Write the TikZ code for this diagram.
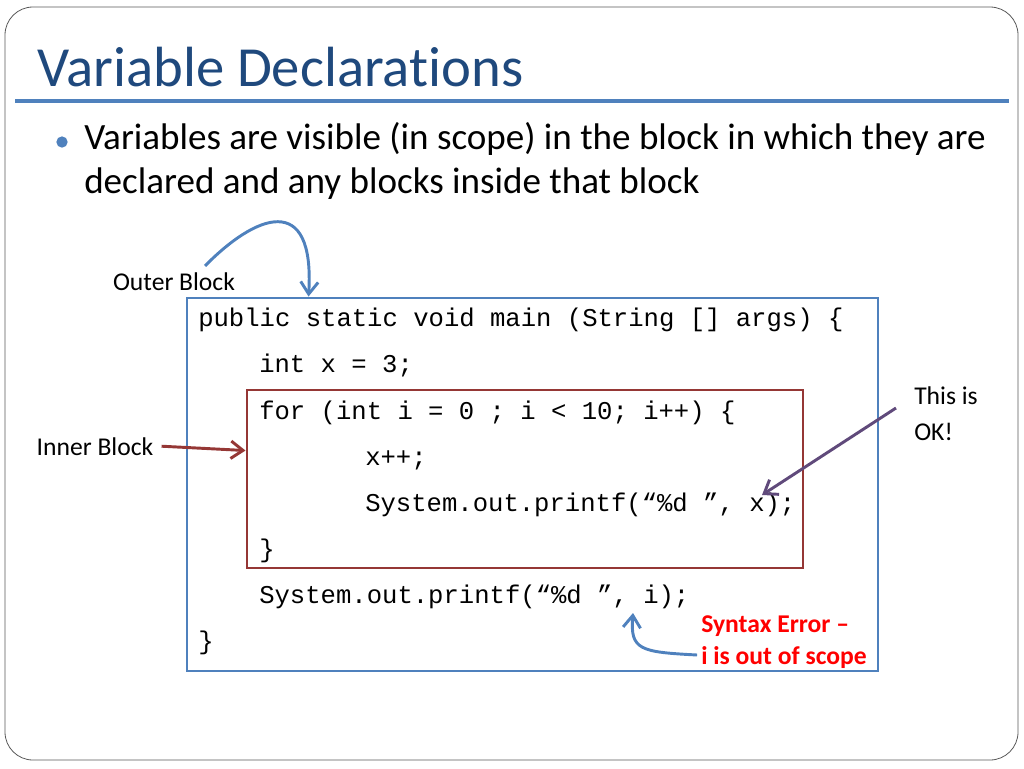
\documentclass[tikz,border=0pt]{standalone}
\usepackage{fontspec}
\setmainfont[Ligatures=CommonOff]{Carlito}
\setmonofont{Liberation Mono}
\usetikzlibrary{arrows.meta,calc,fit,positioning}
\definecolor{accentblue}{HTML}{4F81BD}
\definecolor{titleblue}{HTML}{1F497D}
\definecolor{innerred}{HTML}{953735}
\definecolor{okpurple}{HTML}{604A7B}
\definecolor{errred}{HTML}{FF0000}
\tikzset{
  slide frame/.style={draw=black!65,line width=0.6pt,rounded corners=21pt},
  title text/.style={anchor=base west,inner sep=0pt,text=titleblue,font=\fontsize{42.5}{50}\selectfont},
  body text/.style={anchor=base west,inner sep=0pt,font=\fontsize{27.8}{33}\selectfont},
  note text/.style={inner sep=0pt,align=left,font=\fontsize{19.2}{27}\selectfont},
  code line/.style={anchor=base west,inner sep=0pt,font=\ttfamily\fontsize{19.2}{23}\selectfont},
  block box/.style={draw,line width=2.2pt,inner sep=0pt},
  note arrow/.style={-{Straight Barb[length=3.2mm,width=4.6mm]},line width=2.2pt},
}

\begin{document}
\begin{tikzpicture}[x=0.75pt,y=-0.75pt]
  \useasboundingbox (0,0) rectangle (1024,768);
  \draw[slide frame] (5,7) rectangle (1018,760);
  % title and bullet
  \node[title text] (title) at (37,86) {Variable Declarations};
  \draw[accentblue,line width=2.6pt] (15,101) -- (1009,101);
  \node[circle,fill=accentblue,minimum size=8.5pt,inner sep=0pt] (bullet) at (62,142) {};
  \node[body text] (intro1) at (84,149) {Variables are visible (in scope) in the block in which they are};
  \node[body text] (intro2) at (84,193) {declared and any blocks inside that block};
  % blocks
  \node[block box,draw=accentblue,fit={(187,298) (878,671)}] (outer) {};
  \node[block box,draw=innerred,fit={(247,390) (803,568)}] (inner) {};
  \foreach \i/\x/\y/\t in {1/198/326/{public static void main (String [] args) \{},
                           2/259/372.5/{int x = 3;},
                           3/259/419/{for (int i = 0 ; i < 10; i++) \{},
                           4/365/465/{x++;},
                           5/365/511/{System.out.printf(“\%d ”, x);},
                           6/259/557/{\}},
                           7/259/603/{System.out.printf(“\%d ”, i);},
                           8/198/649/{\}}}{
    \node[code line] (code\i) at (\x,\y) {\t};
  }
  % callouts
  \node[note text,anchor=base] (outerlbl) at (174,290) {Outer Block};
  \node[note text,anchor=base] (innerlbl) at (95,455) {Inner Block};
  \node[note text] (okay) at (946,414) {This is\\OK!};
  \node[note text,text=errred,font=\bfseries\fontsize{19.2}{24}\selectfont] (err) at (784,642) {Syntax Error –\\i is out of scope};
  \coordinate (xarg) at (762,495);
  \coordinate (iarg) at (633,613);
  \draw[note arrow,accentblue] ($(outerlbl.north)+(31,-6)$) .. controls (255,215) and (315,190) .. ($(outer.north west)+(123,0)$);
  \draw[note arrow,innerred] ($(innerlbl.east)+(8,0)$) -- ($(inner.north west)+(0,62)$);
  \draw[note arrow,okpurple] ($(okay.west)+(-18,-6)$) -- (xarg);
  \draw[note arrow,accentblue] ($(err.west)+(-4,13)$) .. controls (640,652) and (630,650) .. (iarg);
\end{tikzpicture}
\end{document}
